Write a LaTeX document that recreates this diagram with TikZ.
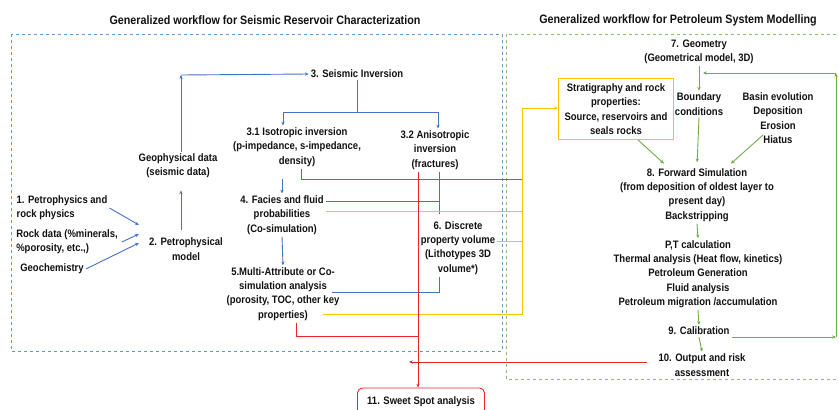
\documentclass[tikz,border=0pt]{standalone}
\usepackage{fontspec}
\setmainfont{Liberation Sans}[FakeStretch=0.88]
\usetikzlibrary{calc,arrows.meta}
\definecolor{wfblue}{HTML}{4472C4}
\definecolor{wfdash}{HTML}{5B9BD5}
\definecolor{wfyellow}{HTML}{FFC000}
\definecolor{wfgreen}{HTML}{70AD47}
\definecolor{wfred}{HTML}{E8262A}
\definecolor{wftext}{HTML}{111111}

\tikzset{
  stage/.style={inner sep=2pt, align=center, text=wftext,
    font=\fontsize{10.8}{14.3}\selectfont\bfseries},
  heading/.style={inner sep=1pt, text=wftext,
    font=\fontsize{12.2}{14}\selectfont\bfseries},
  bl/.style={draw=wfblue, line width=0.9pt},
  yl/.style={draw=wfyellow, line width=0.9pt},
  gr/.style={draw=wfgreen, line width=0.9pt},
  rd/.style={draw=wfred, line width=0.9pt},
  tip/.style={-{Stealth[length=3.8pt, width=3.3pt]}}
}

\begin{document}
\begin{tikzpicture}[x=1pt, y=-1pt]
            \useasboundingbox (0,0) rectangle (839,410);

            % Workflow frames
            \draw[wfdash, dashed, line width=0.7pt] (11,34) rectangle (502,351);
            \draw[wfgreen!80, dashed, line width=0.7pt] (506,34) rectangle (845,379);
            \node[heading] (tL) at (265,20) {Generalized workflow for Seismic Reservoir Characterization};
            \node[heading] (tR) at (678,20) {Generalized workflow for Petroleum System Modelling};

            % Seismic reservoir characterization
            \node[stage] (si) at (357,74) {3. Seismic Inversion};
            \node[stage] (geo) at (178,166) {Geophysical data\\(seismic data)};
            \node[stage, align=left] (p1) at (62,208) {1. Petrophysics and\\rock physics};
            \node[stage, align=left] (rock) at (67,242) {Rock data (\%minerals,\\\%porosity, etc.,)};
            \node[stage] (geoch) at (52,269) {Geochemistry};
            \node[stage] (petro) at (186,249) {2. Petrophysical\\model};
            \node[stage] (iso) at (297,147) {3.1 Isotropic inversion\\(p-impedance, s-impedance,\\density)};
            \node[stage] (aniso) at (435,150) {3.2 Anisotropic\\inversion\\(fractures)};
            \node[stage] (facies) at (282,215) {4. Facies and fluid\\probabilities\\(Co-simulation)};
            \node[stage] (multi) at (283,294) {5.Multi-Attribute or Co-\\simulation analysis\\(porosity, TOC, other key\\properties)};
            \node[stage] (disc) at (458,248) {6. Discrete\\property volume\\(Lithotypes 3D\\volume*)};

            % Petroleum system modelling
            \node[stage] (geom) at (699,52) {7. Geometry\\(Geometrical model, 3D)};
            \node[stage, draw=wfyellow, line width=0.9pt, minimum width=115pt, minimum height=61pt] (strat) at (616,109) {Stratigraphy and rock\\properties:\\Source, reservoirs and\\seals rocks};
            \node[stage] (bound) at (699,104) {Boundary\\conditions};
            \node[stage] (basin) at (778,118) {Basin evolution\\Deposition\\Erosion\\Hiatus};
            \node[stage] (fwd) at (697,195) {8. Forward Simulation\\(from deposition of oldest layer to\\present day)\\Backstripping};
            \node[stage] (pt) at (698,274) {P,T calculation\\Thermal analysis (Heat flow, kinetics)\\Petroleum Generation\\Fluid analysis\\Petroleum migration /accumulation};
            \node[stage] (cal) at (699,331) {9. Calibration};
            \node[stage] (out) at (702,365) {10. Output and risk\\assessment};
            \node[stage, draw=wfred, line width=0.9pt, rounded corners=5pt, minimum width=127pt, minimum height=28pt] (sweet) at (421,402) {11. Sweet Spot analysis};

            % Helper points
            \coordinate (bus) at (522,108);
            \coordinate (up) at (181,75);
            \coordinate (fbT) at (836,73);
            \coordinate (redV) at ([xshift=-17pt]aniso.south);

            % Blue links
            \draw[bl, tip] (p1.east) -- ([shift={(-8pt,24pt)}]petro.west);
            \draw[bl, tip] ([xshift=2pt]rock.east) -- ([shift={(-8pt,15pt)}]petro.west);
            \draw[bl, tip] (geoch.east) -- ([shift={(-8pt,6pt)}]petro.west);
            \draw[bl, tip, shorten <=6pt, shorten >=10pt] ([xshift=-5pt]petro.north) -- ([xshift=-5pt]petro.north |- geo.south);
            \draw[bl, tip] (geo.north -| up) -- (up);
            \draw[bl, tip] (up) -- (si.west);
            \draw[bl, tip] (si.south) -- ++(0,32) -| ([xshift=-14pt]iso.north);
            \draw[bl, tip] (si.south) -- ++(0,32) -| ([xshift=3pt]aniso.north);
            \draw[bl, tip, shorten <=10pt] (iso.south -| facies.north) -- (facies.north);
            \draw[bl, tip] (facies.south) -- (multi.north);
            \draw[bl] ([xshift=4pt]iso.south) -- ++(0,11) coordinate (isoK) -- (isoK -| bus);
            \draw[bl] ([xshift=4pt]aniso.south) coordinate (anK) -- ++(0,42);
            \draw[bl] ([yshift=14pt]facies.east) -- ([yshift=14pt]facies.east -| anK);
            \draw[bl] ([shift={(-10pt,2pt)}]multi.east) -| ([xshift=-19pt]disc.south);

            % Yellow links
            \draw[yl] ([yshift=4pt]facies.east) -- ([yshift=4pt]facies.east -| bus);
            \draw[yl] ([yshift=7pt]disc.east) -- ([yshift=7pt]disc.east -| bus);
            \draw[yl, tip] ([shift={(-19pt,-20pt)}]multi.east) -| (bus) -- (bus -| strat.west);

            % Red links
            \draw[rd, tip] (redV) -- (redV |- sweet.north);
            \draw[rd] ([xshift=13pt]multi.south) -- ++(0,14) coordinate (mK) -- (mK -| redV);
            \draw[rd, tip] ([shift={(-9pt,3pt)}]out.west) -- ([shift={(-9pt,3pt)}]out.west -| redV);

            % Green links
            \draw[gr, tip] (geom.south) -- (bound.north);
            \draw[gr, tip, shorten >=4pt] (bound.south) -- (fwd.north);
            \draw[gr, tip, shorten >=4pt] ([xshift=22pt]strat.south) -- ([xshift=-30pt]fwd.north);
            \draw[gr, tip, shorten >=4pt] ([shift={(-15pt,-17pt)}]basin.center) -- ([xshift=31pt]fwd.north);
            \draw[gr, tip] (fwd.south) -- (pt.north);
            \draw[gr, tip] (pt.south) -- (cal.north);
            \draw[gr, tip] (cal.south) -- (out.north);
            \draw[gr, tip] ([yshift=-6pt]cal.east) coordinate (cK) -- (cK -| fbT);
            \draw[gr, tip] (cK -| fbT) -- (fbT);
            \draw[gr, tip] (fbT) -- ([xshift=4pt]fbT -| geom.south);
\end{tikzpicture}
\end{document}
